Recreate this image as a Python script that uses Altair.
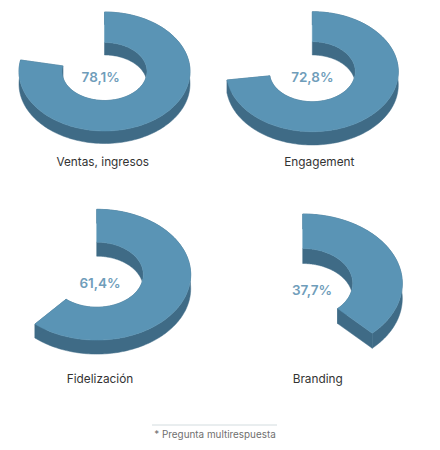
import numpy as np
import pandas as pd
import altair as alt

names = ["Ventas, ingresos", "Engagement", "Fidelización", "Branding"]
shares = [78.1, 72.8, 61.4, 37.7]
footnote = "* Pregunta multirespuesta"

# ring geometry in page pixels: centre, outer and inner radii, extrusion
CX = [104.5, 312.3, 96.7, 302.7]
CY = [71.5, 71.7, 274.7, 283.5]
RX = [85.5, 86.0, 94.0, 99.6]
RY = [59.5, 60.0, 65.4, 69.5]
IX = [42.5, 43.0, 46.6, 50.0]
IY = [29.0, 30.0, 32.5, 35.0]
DEPTH = [12.5, 13.3, 14.0, 15.0]
LABEL_XY = [(100.7, 78), (312.3, 78), (100, 283.5), (312, 291)]
NAME_XY = [(102.7, 162), (319.3, 162), (100, 378.5), (317.7, 379)]

TOP = "#5a94b5"
SIDE = "#3f6b86"
VALUE_COLOR = "#6f9dba"
FONT = "Inter"


def arc(cx, cy, rx, ry, share, rev=False, dy=0.0):
    t = np.radians(np.linspace(0, share * 3.6, 160))
    if rev:
        t = t[::-1]
    return list(cx + rx * np.sin(t)), list(cy + dy - ry * np.cos(t))


rows_top, rows_side = [], []


def add(rows, key, xs, ys):
    for i, (x, y) in enumerate(zip(xs, ys)):
        rows.append({"poly": key, "i": i, "x": x, "y": y})


for k, s in enumerate(shares):
    cx, cy, rx, ry, ix, iy, d = CX[k], CY[k], RX[k], RY[k], IX[k], IY[k], DEPTH[k]
    # top face: outer arc forward, inner arc back
    ox, oy = arc(cx, cy, rx, ry, s)
    nx, ny = arc(cx, cy, ix, iy, s, rev=True)
    add(rows_top, f"t{k}", ox + nx, oy + ny)
    # outer wall
    ax, ay = arc(cx, cy, rx, ry, s, rev=True, dy=d)
    add(rows_side, f"o{k}", ox + ax, oy + ay)
    # inner wall
    fx, fy = arc(cx, cy, ix, iy, s)
    bx, by = arc(cx, cy, ix, iy, s, rev=True, dy=d)
    add(rows_side, f"i{k}", fx + bx, fy + by)
    # end cut
    add(rows_side, f"c{k}",
        [ox[-1], fx[-1], fx[-1], ox[-1]],
        [oy[-1], fy[-1], fy[-1] + d, oy[-1] + d])

x_scale = alt.Scale(domain=[8, 432], zero=False, nice=False)
y_scale = alt.Scale(domain=[8, 442], zero=False, nice=False, reverse=True)
X = alt.X("x:Q", scale=x_scale, axis=None)
Y = alt.Y("y:Q", scale=y_scale, axis=None)


def rings(rows, color):
    return alt.Chart(pd.DataFrame(rows)).mark_line(
        fill=color, stroke=color, strokeWidth=0.5, interpolate="linear-closed"
    ).encode(x=X, y=Y, detail="poly:N", order=alt.Order("i:Q"))


values_df = pd.DataFrame({
    "x": [p[0] for p in LABEL_XY], "y": [p[1] for p in LABEL_XY],
    "t": [f"{v:.1f}%".replace(".", ",") for v in shares],
})
names_df = pd.DataFrame({
    "x": [p[0] for p in NAME_XY], "y": [p[1] for p in NAME_XY], "t": names,
})

value_text = alt.Chart(values_df).mark_text(
    font=FONT, fontSize=13.5, fontWeight=600, color=VALUE_COLOR
).encode(x=X, y=Y, text="t:N")
name_text = alt.Chart(names_df).mark_text(
    font=FONT, fontSize=11.8, color="#333333"
).encode(x=X, y=Y, text="t:N")
foot_rule = alt.Chart(pd.DataFrame({"x": [152], "x2": [277], "y": [425]})).mark_rule(
    color="#d3dcdf", strokeWidth=1
).encode(x=X, x2="x2:Q", y=Y)
foot_text = alt.Chart(pd.DataFrame({"x": [215], "y": [435], "t": [footnote]})).mark_text(
    font=FONT, fontSize=9.9, color="#6f6f6f"
).encode(x=X, y=Y, text="t:N")

chart = alt.layer(
    rings(rows_side, SIDE), rings(rows_top, TOP),
    value_text, name_text, foot_rule, foot_text,
).properties(
    width=424, height=434, padding=0, autosize=alt.AutoSizeParams(type="none"),
).configure_view(stroke=None)

chart.save("out.html", embed_options={"renderer": "svg", "actions": False})
